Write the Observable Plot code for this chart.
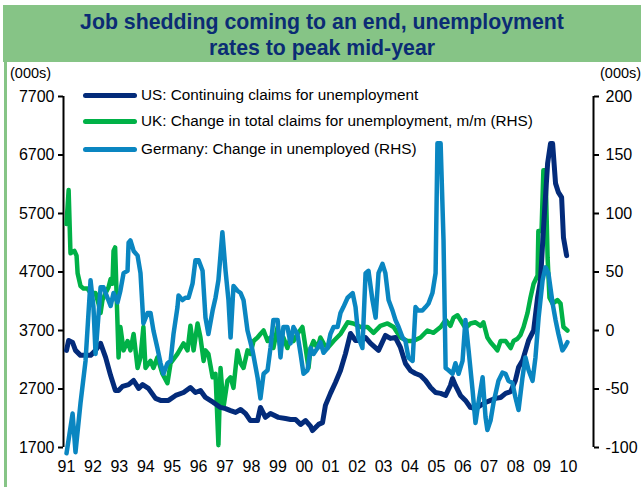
<!DOCTYPE html>
<html>
<head>
<meta charset="utf-8">
<script src="https://cdn.jsdelivr.net/npm/d3@7"></script>
<script src="https://cdn.jsdelivr.net/npm/@observablehq/plot@0.6"></script>
<style>
  html, body { margin: 0; padding: 0; background: #fff; }
  body { width: 641px; height: 487px; position: relative; overflow: hidden;
         font-family: "Liberation Sans", Arial, sans-serif; }
  #title { position: absolute; left: 3px; top: 5px; width: 638px; height: 57px;
           background: #86C486; color: #0B2C74; font-weight: bold; font-size: 21.3px;
           text-align: center; line-height: 26px; padding-top: 4px; box-sizing: border-box; }
  #leftbar { position: absolute; left: 4px; top: 62px; width: 3px; height: 425px; background: #86C486; }
  .unit { position: absolute; top: 64px; font-size: 14.5px; line-height: 18px; color: #000; white-space: nowrap; }
  #chart { position: absolute; left: 0; top: 63px; }
  .leg { position: absolute; left: 83px; width: 54px; height: 5px; border-radius: 2.5px; z-index: 2; }
  .legt { position: absolute; left: 141px; font-size: 15.3px; line-height: 18px; color: #000; white-space: nowrap; z-index: 2; }
</style>
</head>
<body>
<div id="title">Job shedding coming to an end, unemployment<br>rates to peak mid-year</div>
<div id="leftbar"></div>
<div class="unit" style="left:10px">(000s)</div>
<div class="unit" style="left:600px">(000s)</div>
<div id="chart"></div>
<div id="legend"></div>
<script>
// ---- Data ----
const seriesNames = [
  "US: Continuing claims for unemployment",
  "UK: Change in total claims for unemployment, m/m (RHS)",
  "Germany: Change in unemployed (RHS)"
];
const seriesColors = ["#032B7A", "#00B147", "#0A86C1"];

const leftTicks = [1700, 2700, 3700, 4700, 5700, 6700, 7700];
const rightTicks = [-100, -50, 0, 50, 100, 150, 200];
const xTickYears = d3.range(1991, 2011);
const xTickLabels = ["91","92","93","94","95","96","97","98","99","00","01","02","03","04","05","06","07","08","09","10"];

// US continuing claims (000s), [decimal year, value] - left axis
const usData = [
  [1991.00,3360],[1991.08,3530],[1991.23,3495],[1991.34,3360],[1991.53,3275],[1991.91,3275],
  [1992.10,3360],[1992.29,3480],[1992.48,3240],[1992.67,2930],[1992.85,2675],[1992.97,2675],
  [1993.12,2745],[1993.35,2775],[1993.54,2845],[1993.73,2710],[1993.88,2775],[1994.10,2710],
  [1994.37,2540],[1994.56,2505],[1994.86,2505],[1995.13,2590],[1995.43,2640],[1995.69,2725],
  [1995.88,2640],[1996.07,2675],[1996.26,2555],[1996.56,2470],[1996.83,2385],[1997.02,2365],
  [1997.21,2330],[1997.40,2300],[1997.59,2350],[1997.78,2280],[1997.96,2160],[1998.23,2160],
  [1998.34,2385],[1998.53,2215],[1998.72,2280],[1999.02,2215],[1999.29,2195],[1999.48,2180],
  [1999.67,2180],[1999.86,2095],[2000.05,2160],[2000.24,2060],[2000.31,1990],[2000.54,2095],
  [2000.69,2125],[2000.80,2420],[2000.99,2625],[2001.18,2810],[2001.37,3015],[2001.56,3305],
  [2001.75,3650],[2001.94,3530],[2002.13,3530],[2002.32,3580],[2002.51,3480],[2002.81,3360],
  [2003.07,3615],[2003.26,3565],[2003.45,3580],[2003.64,3410],[2003.83,3135],[2004.02,3015],
  [2004.21,2965],[2004.40,2930],[2004.59,2845],[2004.78,2725],[2004.97,2640],[2005.16,2625],
  [2005.35,2590],[2005.53,2760],[2005.61,2880],[2005.72,2760],[2005.91,2590],[2006.10,2505],
  [2006.29,2385],[2006.48,2365],[2006.67,2420],[2006.86,2470],[2007.05,2505],[2007.24,2540],
  [2007.43,2555],[2007.62,2625],[2007.81,2655],[2007.99,2845],[2008.11,3070],[2008.26,3185],
  [2008.49,3530],[2008.68,3700],[2008.83,4265],[2008.94,4555],[2009.05,5410],[2009.21,6555],
  [2009.32,6895],[2009.40,6895],[2009.51,6215],[2009.62,6060],[2009.74,5975],[2009.81,5290],
  [2009.93,4980]
];

// UK change in total claims, m/m (000s) - right axis
const ukData = [
  [1991.00,91],[1991.08,120],[1991.15,66],[1991.23,67],[1991.30,68],[1991.38,64],[1991.42,49],
  [1991.53,38],[1991.64,36],[1991.79,36],[1991.91,32],[1992.10,32],[1992.21,23],[1992.29,15],
  [1992.36,26],[1992.48,32],[1992.59,37],[1992.67,44],[1992.74,40],[1992.78,68],[1992.84,71],
  [1992.97,-23],[1993.04,3],[1993.16,-17],[1993.31,-9],[1993.42,-17],[1993.54,-3],[1993.69,-32],
  [1993.80,-23],[1993.91,3],[1993.99,-32],[1994.18,-26],[1994.29,-32],[1994.44,-23],[1994.63,-37],
  [1994.82,-45],[1994.94,-28],[1995.20,-20],[1995.43,-11],[1995.58,-17],[1995.69,4],[1995.81,-17],
  [1995.96,6],[1996.07,-6],[1996.19,-26],[1996.26,-17],[1996.37,-20],[1996.53,-40],[1996.64,-37],
  [1996.75,-98],[1996.83,-32],[1996.94,-66],[1997.09,-43],[1997.21,-40],[1997.32,-49],[1997.47,-17],
  [1997.59,-28],[1997.70,-32],[1997.85,-17],[1997.96,-20],[1998.08,-9],[1998.23,-6],[1998.34,-3],
  [1998.46,0],[1998.61,-9],[1998.72,-6],[1998.83,-15],[1998.99,3],[1999.10,-15],[1999.21,-6],
  [1999.36,-15],[1999.48,-6],[1999.59,-9],[1999.74,-3],[1999.93,3],[2000.05,-15],[2000.16,-32],
  [2000.24,-15],[2000.35,-9],[2000.50,-15],[2000.61,-6],[2000.73,-11],[2000.88,-15],[2001.11,-9],
  [2001.37,-3],[2001.64,7],[2001.86,6],[2002.13,3],[2002.39,3],[2002.62,-2],[2002.88,4],
  [2003.15,6],[2003.38,3],[2003.64,-6],[2003.91,-9],[2004.13,-9],[2004.40,-6],[2004.66,0],
  [2004.89,-2],[2005.16,3],[2005.35,9],[2005.53,4],[2005.65,11],[2005.80,13],[2005.91,9],
  [2006.10,2],[2006.29,6],[2006.48,7],[2006.67,4],[2006.78,7],[2006.93,-6],[2007.05,-10],
  [2007.24,-15],[2007.31,-17],[2007.43,-9],[2007.62,-9],[2007.81,-15],[2007.92,-9],[2008.07,-7],
  [2008.18,-4],[2008.30,3],[2008.45,15],[2008.56,28],[2008.68,40],[2008.83,47],[2008.86,85],
  [2008.98,85],[2009.05,137],[2009.13,137],[2009.21,62],[2009.28,28],[2009.40,23],[2009.58,26],
  [2009.70,23],[2009.81,3],[2009.96,0]
];

// Germany change in unemployed (000s) - right axis
const deData = [
  [1991.00,-105],[1991.23,-71],[1991.34,-104],[1991.53,-62],[1991.72,-26],[1991.91,43],[1992.02,20],
  [1992.10,-20],[1992.29,37],[1992.40,37],[1992.55,28],[1992.67,21],[1992.78,32],[1992.93,24],
  [1993.04,34],[1993.16,49],[1993.31,51],[1993.35,75],[1993.42,77],[1993.54,68],[1993.69,64],
  [1993.80,49],[1993.91,6],[1994.07,15],[1994.18,15],[1994.29,0],[1994.44,-15],[1994.56,-28],
  [1994.67,-37],[1994.82,-28],[1994.94,-26],[1995.05,-3],[1995.20,20],[1995.24,30],[1995.39,26],
  [1995.50,28],[1995.62,28],[1995.77,40],[1995.88,60],[1996.00,60],[1996.15,51],[1996.26,11],
  [1996.37,-3],[1996.53,17],[1996.64,28],[1996.75,43],[1996.90,84],[1997.02,51],[1997.13,26],
  [1997.21,-6],[1997.32,38],[1997.47,34],[1997.59,32],[1997.70,26],[1997.85,0],[1998.04,-17],
  [1998.23,-40],[1998.34,-58],[1998.46,-37],[1998.61,-34],[1998.72,-15],[1998.83,9],[1998.99,9],
  [1999.10,-23],[1999.21,3],[1999.36,3],[1999.48,-11],[1999.59,3],[1999.74,-3],[1999.86,-20],
  [1999.97,-37],[2000.12,-34],[2000.24,-15],[2000.35,-20],[2000.50,-15],[2000.61,-10],[2000.73,-19],
  [2000.88,-15],[2000.99,-3],[2001.11,3],[2001.26,3],[2001.37,15],[2001.48,20],[2001.64,28],
  [2001.83,32],[2001.94,20],[2002.05,-6],[2002.20,-15],[2002.32,49],[2002.43,51],[2002.58,26],
  [2002.70,11],[2002.81,49],[2002.96,57],[2003.07,49],[2003.19,26],[2003.34,17],[2003.45,9],
  [2003.57,3],[2003.72,-6],[2003.83,-9],[2003.94,-23],[2004.10,-26],[2004.21,20],[2004.32,17],
  [2004.47,17],[2004.59,20],[2004.70,23],[2004.85,32],[2004.97,49],[2005.04,160],[2005.16,160],
  [2005.27,77],[2005.35,-32],[2005.46,-34],[2005.61,-37],[2005.72,-28],[2005.84,-37],[2005.99,-26],
  [2006.10,9],[2006.22,-17],[2006.37,-51],[2006.48,-79],[2006.59,-62],[2006.75,-40],[2006.86,-74],
  [2006.93,-85],[2007.05,-77],[2007.16,-62],[2007.35,-43],[2007.50,-36],[2007.62,-37],[2007.73,-43],
  [2007.88,-45],[2007.99,-57],[2008.11,-68],[2008.26,-40],[2008.37,-23],[2008.49,-34],[2008.64,-43],
  [2008.75,-23],[2008.87,11],[2009.02,43],[2009.13,54],[2009.24,49],[2009.40,23],[2009.51,9],
  [2009.62,-3],[2009.77,-17],[2009.89,-13],[2009.96,-10]
];

// ---- Scales helpers ----
const leftMin = leftTicks[0], leftMax = leftTicks[leftTicks.length - 1];
const rightMin = rightTicks[0], rightMax = rightTicks[rightTicks.length - 1];
const toLeft = v => leftMin + (v - rightMin) * (leftMax - leftMin) / (rightMax - rightMin);
const rightPositions = rightTicks.map(toLeft);
const xDomain = [1990.886, 2010.947];

const chart = Plot.plot({
  width: 641,
  height: 424,
  marginTop: 33,
  marginBottom: 40,
  marginLeft: 63,
  marginRight: 48,
  style: { fontFamily: "'Liberation Sans', Arial, sans-serif", fontSize: "16px", color: "#000", background: "transparent" },
  x: { domain: xDomain },
  y: { domain: [leftMin, leftMax] },
  marks: [
    Plot.axisY(leftTicks, { anchor: "left", tickSize: 5, tickPadding: 4, strokeWidth: 2, label: null, fontSize: 16,
      tickFormat: d => String(d) }),
    Plot.axisY(rightPositions, { anchor: "right", tickSize: 5, tickPadding: 7, strokeWidth: 2, label: null, fontSize: 16,
      tickFormat: d => String(rightTicks[rightPositions.indexOf(d)]) }),
    Plot.axisX(xTickYears, { tickSize: 0, tickPadding: 13, label: null, fontSize: 16,
      tickFormat: d => xTickLabels[xTickYears.indexOf(d)] }),
    Plot.ruleX([xDomain[0], xDomain[1]], { stroke: "#000", strokeWidth: 2 }),
    Plot.line(ukData, { x: d => d[0], y: d => toLeft(d[1]), stroke: seriesColors[1], strokeWidth: 4.5, strokeLinejoin: "round" }),
    Plot.line(usData, { x: d => d[0], y: d => d[1], stroke: seriesColors[0], strokeWidth: 5, strokeLinejoin: "round" }),
    Plot.line(deData, { x: d => d[0], y: d => toLeft(d[1]), stroke: seriesColors[2], strokeWidth: 4.5, strokeLinejoin: "round" })
  ]
});
document.getElementById("chart").appendChild(chart);

// ---- Legend ----
const legendTops = [95, 121, 149];
const legend = document.getElementById("legend");
seriesNames.forEach((name, i) => {
  const sw = document.createElement("div");
  sw.className = "leg";
  sw.style.top = (legendTops[i] - 2.5) + "px";
  sw.style.background = seriesColors[i];
  legend.appendChild(sw);
  const t = document.createElement("div");
  t.className = "legt";
  t.style.top = (legendTops[i] - 9) + "px";
  t.textContent = name;
  legend.appendChild(t);
});
</script>
</body>
</html>
